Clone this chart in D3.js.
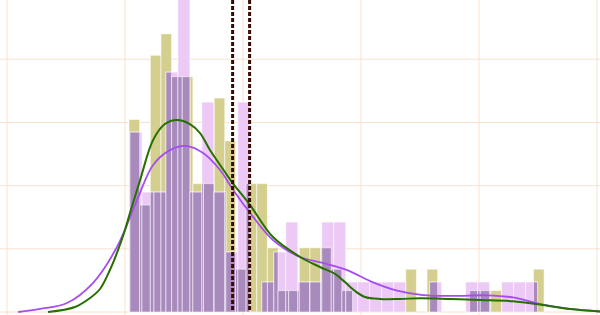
<!DOCTYPE html>
<html>
<head>
<meta charset="utf-8">
<script src="https://cdn.jsdelivr.net/npm/d3@7"></script>
<style>
  body { margin: 0; background: #fff; }
  svg { display: block; }
</style>
</head>
<body>
<div id="chart"></div>
<script>
/** DATA */
// olive histogram: bin start, bin width, counts per bin
const oliveStart = 51.7
const oliveWidth = 4.51
const oliveCounts = [9,5,12,13,11,11,6,6,10,8, 2,6,6,3,1,1,3,3,3,2, 1,0,0,0,0,0,2,0,2,0, 0,0,1,1,1,0,0,0,2]

// violet histogram
const violetStart = 52.1
const violetWidth = 5.08
const violetCounts = [6,4,4,8,12,4,7,4,2,7, 0,1,2,3,1,1,3,3,1,1, 1,1,1,0,0,1,0,0,1,1, 0,1,1,1]

// kde curves [x, density]
const oliveKde = [[17.4,0],[28.8,0.0004],[35.2,0.00111],[39.4,0.00182],[43.6,0.00332],[46.6,0.00467],
  [50.0,0.00649],[52.1,0.00783],[56.4,0.01044],[61.9,0.01361],[66.9,0.01487],[72.0,0.01519],[77.5,0.01487],
  [81.8,0.01416],[86.0,0.01281],[90.3,0.01163],[95.3,0.01028],[103.0,0.00846],[112.7,0.00593],
  [124.2,0.00435],[132.6,0.00356],[139.0,0.00301],[143.2,0.00237],[147.5,0.00166],[151.7,0.00119],
  [158.1,0.00103],[166.5,0.00103],[175.0,0.00109],[187.7,0.00103],[200.4,0.00095],[214.4,0.00085],
  [227.1,0.00055],[238.6,0.00024],[251.3,0.00004]]
const violetKde = [[4.7,0],[14.0,0.00024],[25.4,0.00071],[36.4,0.00229],[46.6,0.00514],[55.1,0.00886],
  [61.9,0.01163],[69.1,0.01281],[76.3,0.01313],[83.1,0.01258],[90.3,0.01123],[95.3,0.00981],[103.0,0.00783],
  [112.7,0.00569],[124.2,0.00435],[133.9,0.00388],[144.1,0.00332],[155.1,0.00235],[165.3,0.00170],
  [176.3,0.00134],[189.0,0.00127],[203.4,0.00132],[214.4,0.00115],[227.1,0.00058],[238.6,0.00024],[251.3,0.00004]]

// the two dashed reference lines (means)
const meanLines = [95.6, 102.8]

const xTicks = [0, 50, 100, 150, 200, 250]
const yTicks = [0, 0.005, 0.01, 0.015, 0.02, 0.025]

/** CONSTANTS */
const width = 600
const height = 315

const xScale = d3.scaleLinear().domain([0, 250]).range([7, 597])
const yScale = d3.scaleLinear().domain([0, 0.025]).range([312, -4])

const colors = {
  grid: "#f7e2cf",
  olive: "#d5cf8f",
  violet: "#eccaf5",
  overlap: "#a88bbc",
  oliveLine: "#267000",
  violetLine: "#a64cf0",
  mean: "#3a0a00"
}

// turn counts into density bins
function toBins(start, w, counts) {
  const n = d3.sum(counts)
  return counts.map((c, i) => ({ x0: start + i * w, x1: start + (i + 1) * w, y: c / (n * w) }))
}
const oliveBins = toBins(oliveStart, oliveWidth, oliveCounts)
const violetBins = toBins(violetStart, violetWidth, violetCounts)

// where both histograms overlap
const overlapBins = []
oliveBins.forEach(a => {
  violetBins.forEach(b => {
    const x0 = Math.max(a.x0, b.x0), x1 = Math.min(a.x1, b.x1)
    const y = Math.min(a.y, b.y)
    if (x1 > x0 && y > 0) overlapBins.push({ x0, x1, y })
  })
})

const svg = d3.select("#chart")
  .append("svg")
  .attr("width", width)
  .attr("height", height)

// grid
svg.append("g")
  .selectAll("line")
  .data(xTicks)
  .join("line")
  .attr("x1", d => xScale(d)).attr("x2", d => xScale(d))
  .attr("y1", 0).attr("y2", height)
  .attr("stroke", colors.grid)
  .attr("stroke-width", 1)

svg.append("g")
  .selectAll("line")
  .data(yTicks)
  .join("line")
  .attr("x1", 0).attr("x2", width)
  .attr("y1", d => yScale(d)).attr("y2", d => yScale(d))
  .attr("stroke", colors.grid)
  .attr("stroke-width", 1)

function drawBars(bins, fill, cls) {
  svg.append("g")
    .selectAll("rect." + cls)
    .data(bins.filter(d => d.y > 0))
    .join("rect")
    .attr("class", cls)
    .attr("x", d => xScale(d.x0))
    .attr("width", d => xScale(d.x1) - xScale(d.x0))
    .attr("y", d => yScale(d.y))
    .attr("height", d => yScale(0) - yScale(d.y))
    .attr("fill", fill)
    .attr("stroke", "#fff")
    .attr("stroke-opacity", 0.55)
    .attr("stroke-width", 1)
}
drawBars(oliveBins, colors.olive, "olive")
drawBars(violetBins, colors.violet, "violet")
drawBars(overlapBins, colors.overlap, "overlap")

// kde lines
const line = d3.line()
  .x(d => xScale(d[0]))
  .y(d => yScale(d[1]))
  .curve(d3.curveCatmullRom.alpha(0.5))

svg.append("path")
  .datum(violetKde)
  .attr("d", line)
  .attr("fill", "none")
  .attr("stroke", colors.violetLine)
  .attr("stroke-width", 1.8)

svg.append("path")
  .datum(oliveKde)
  .attr("d", line)
  .attr("fill", "none")
  .attr("stroke", colors.oliveLine)
  .attr("stroke-width", 2)

// mean lines
svg.append("g")
  .selectAll("line")
  .data(meanLines)
  .join("line")
  .attr("x1", d => xScale(d)).attr("x2", d => xScale(d))
  .attr("y1", 0).attr("y2", yScale(0))
  .attr("stroke", colors.mean)
  .attr("stroke-width", 3)
  .attr("stroke-dasharray", "4,2")
</script>
</body>
</html>
